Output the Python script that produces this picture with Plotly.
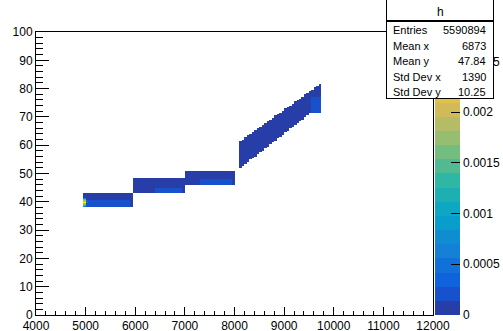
import plotly.graph_objects as go

# ---- histogram binning ----
X_MIN, X_MAX, X_BIN = 4000, 12000, 50
Y_MIN, Y_MAX, Y_BIN = 0.0, 100.0, 0.5
Z_MAX = 0.00279

# flat segments (x range, y band, density)
blk_x0 = [4950, 5950, 7000]
blk_x1 = [5950, 7000, 8000]
blk_y0 = [38.0, 43.0, 46.0]
blk_y1 = [43.0, 48.5, 51.0]
blk_z = [1.0e-4, 1.0e-4, 1.0e-4]

# rising band, one entry per 50-wide column starting at 8100
diag_lo = [52.0, 52.5, 53.5, 54.0, 55.0, 55.5, 56.0, 57.0, 57.5, 58.0, 59.0,
           59.5, 60.5, 61.0, 61.5, 62.5, 63.0, 63.5, 64.5, 65.0, 66.0, 66.5,
           67.0, 68.0, 68.5, 69.0, 70.0, 70.5, 71.5, 72.0, 72.5, 73.5, 74.0]
diag_hi = [61.5, 62.0, 63.0, 63.5, 64.0, 64.5, 65.5, 66.0, 66.5, 67.0, 68.0,
           68.5, 69.0, 69.5, 70.5, 71.0, 71.5, 72.0, 73.0, 73.5, 74.0, 74.5,
           75.5, 76.0, 76.5, 77.0, 78.0, 78.5, 79.0, 79.5, 80.5, 81.0, 81.5]
DIAG_X0 = 8100
diag_z = 1.0e-4

# somewhat denser regions
dense_x0 = [5000, 6400, 7300, 9550]
dense_x1 = [5900, 6950, 7950, 9750]
dense_y0 = [38.0, 43.0, 46.0, 71.5]
dense_y1 = [40.5, 45.0, 48.0, 77.0]
dense_z = [1.8e-4, 1.8e-4, 1.8e-4, 1.8e-4]

# hot cells at the start of the first segment
hot_x = [4950, 4950, 4950, 4950, 4950, 4950, 4950, 5000, 5000]
hot_y = [38.0, 38.5, 39.0, 39.5, 40.0, 40.5, 41.0, 39.5, 40.0]
hot_z = [0.0007, 0.0012, 0.0017, 0.00279, 0.0019, 0.0014, 0.0008, 0.0005, 0.0004]

# statistics box
stat_names = ["Entries", "Mean x", "Mean y", "Std Dev x", "Std Dev y"]
stat_vals = ["5590894", "6873", "47.84", "1390", "10.25"]

# palette axis labels
cb_vals = [0, 0.0005, 0.001, 0.0015, 0.002, 0.0025]
cb_text = ["0", "0.0005", "0.001", "0.0015", "0.002", "0.0025"]

# ---- fill the grid ----
nx = int((X_MAX - X_MIN) / X_BIN)
ny = int((Y_MAX - Y_MIN) / Y_BIN)
x_edges = [X_MIN + i * X_BIN for i in range(nx + 1)]
y_edges = [Y_MIN + j * Y_BIN for j in range(ny + 1)]
z = [[None] * nx for _ in range(ny)]


def fill(x0, x1, y0, y1, val):
    for i in range(nx):
        xc = X_MIN + (i + 0.5) * X_BIN
        if not (x0 <= xc < x1):
            continue
        for j in range(ny):
            yc = Y_MIN + (j + 0.5) * Y_BIN
            if y0 <= yc < y1:
                z[j][i] = val


for a, b, c, d, v in zip(blk_x0, blk_x1, blk_y0, blk_y1, blk_z):
    fill(a, b, c, d, v)
for k, (lo, hi) in enumerate(zip(diag_lo, diag_hi)):
    a = DIAG_X0 + k * X_BIN
    fill(a, a + X_BIN, lo, hi, diag_z)
for a, b, c, d, v in zip(dense_x0, dense_x1, dense_y0, dense_y1, dense_z):
    fill(a, b, c, d, v)
for a, c, v in zip(hot_x, hot_y, hot_z):
    fill(a, a + X_BIN, c, c + Y_BIN, v)

# ---- kBird palette, 20 contour bands ----
bird_pos = [0.0, 0.125, 0.25, 0.375, 0.5, 0.625, 0.75, 0.875, 1.0]
bird_r = [0.2082, 0.0592, 0.0780, 0.0232, 0.1802, 0.5301, 0.8186, 0.9956, 0.9764]
bird_g = [0.1664, 0.3599, 0.5041, 0.6419, 0.7178, 0.7492, 0.7328, 0.7862, 0.9832]
bird_b = [0.5293, 0.8684, 0.8385, 0.7914, 0.6425, 0.4662, 0.3499, 0.1968, 0.0539]


def bird(f):
    for k in range(len(bird_pos) - 1):
        if f <= bird_pos[k + 1]:
            t = (f - bird_pos[k]) / (bird_pos[k + 1] - bird_pos[k])
            break
    r = bird_r[k] + t * (bird_r[k + 1] - bird_r[k])
    g = bird_g[k] + t * (bird_g[k + 1] - bird_g[k])
    b = bird_b[k] + t * (bird_b[k + 1] - bird_b[k])
    return "rgb(%d,%d,%d)" % (round(r * 255), round(g * 255), round(b * 255))


N_CONT = 20
colorscale = []
for i in range(N_CONT):
    f = int((i + 0.99) * 255 / N_CONT) / 254
    c = bird(min(f, 1.0))
    colorscale.append([i / N_CONT, c])
    colorscale.append([(i + 1) / N_CONT, c])

FONT = "Liberation Sans, Arial, Helvetica, sans-serif"

# plot area in pixels
L, R, T, B = 36, 70, 32, 16
W, H = 503, 331
PW, PH = W - L - R, H - T - B


def px(xp):
    return (xp - L) / PW


def py(yp):
    return (H - B - yp) / PH


fig = go.Figure(go.Heatmap(
    x=x_edges, y=y_edges, z=z,
    zmin=0, zmax=Z_MAX, colorscale=colorscale,
    hoverinfo="skip", zsmooth=False,
    colorbar=dict(
        x=px(435), xanchor="left", y=0.5, yanchor="middle",
        len=1, lenmode="fraction", thickness=25, thicknessmode="pixels",
        xpad=0, ypad=0, outlinewidth=0,
        ticks="inside", ticklen=9, tickcolor="black", tickwidth=1,
        tickmode="array", tickvals=cb_vals, ticktext=cb_text,
        tickfont=dict(family=FONT, size=12, color="black"),
    ),
))

axis_common = dict(
    showline=True, mirror=True, linecolor="black", linewidth=1,
    showgrid=False, zeroline=False, ticks="inside", tickcolor="black",
    tickfont=dict(family=FONT, size=12, color="black"),
)
fig.update_xaxes(range=[X_MIN, X_MAX], tick0=4000, dtick=1000, ticklen=8,
                 tickformat="d",
                 minor=dict(ticks="inside", dtick=200, ticklen=4, tickcolor="black"),
                 **axis_common)
fig.update_yaxes(range=[Y_MIN, Y_MAX], tick0=0, dtick=10, ticklen=13,
                 tickformat="d",
                 minor=dict(ticks="inside", dtick=2, ticklen=7, tickcolor="black"),
                 **axis_common)

ann = []
# title box and statistics box
ann.append(dict(xref="paper", yref="paper", x=px(386), y=py(-2), xanchor="left",
                yanchor="top", text=" ", width=106, height=21, bgcolor="white",
                bordercolor="black", borderwidth=1, borderpad=0, showarrow=False))
ann.append(dict(xref="paper", yref="paper", x=px(386), y=py(21), xanchor="left",
                yanchor="top", text=" ", width=106, height=76, bgcolor="white",
                bordercolor="black", borderwidth=1, borderpad=0, showarrow=False))
ann.append(dict(xref="paper", yref="paper", x=px(440), y=py(12), xanchor="center",
                yanchor="middle", text="h", showarrow=False,
                font=dict(family=FONT, size=12, color="black")))
row_y = [30, 45.5, 61, 76.5, 92]
for name, val, ry in zip(stat_names, stat_vals, row_y):
    ann.append(dict(xref="paper", yref="paper", x=px(391), y=py(ry), xanchor="left",
                    yanchor="middle", text=name, showarrow=False,
                    font=dict(family=FONT, size=11, color="black")))
    ann.append(dict(xref="paper", yref="paper", x=px(488), y=py(ry), xanchor="right",
                    yanchor="middle", text=val, showarrow=False,
                    font=dict(family=FONT, size=11, color="black")))

fig.update_layout(
    width=W, height=H,
    margin=dict(l=L, r=R, t=T, b=B, autoexpand=False),
    paper_bgcolor="white", plot_bgcolor="white",
    showlegend=False, annotations=ann,
)

fig.write_html("out.html")
